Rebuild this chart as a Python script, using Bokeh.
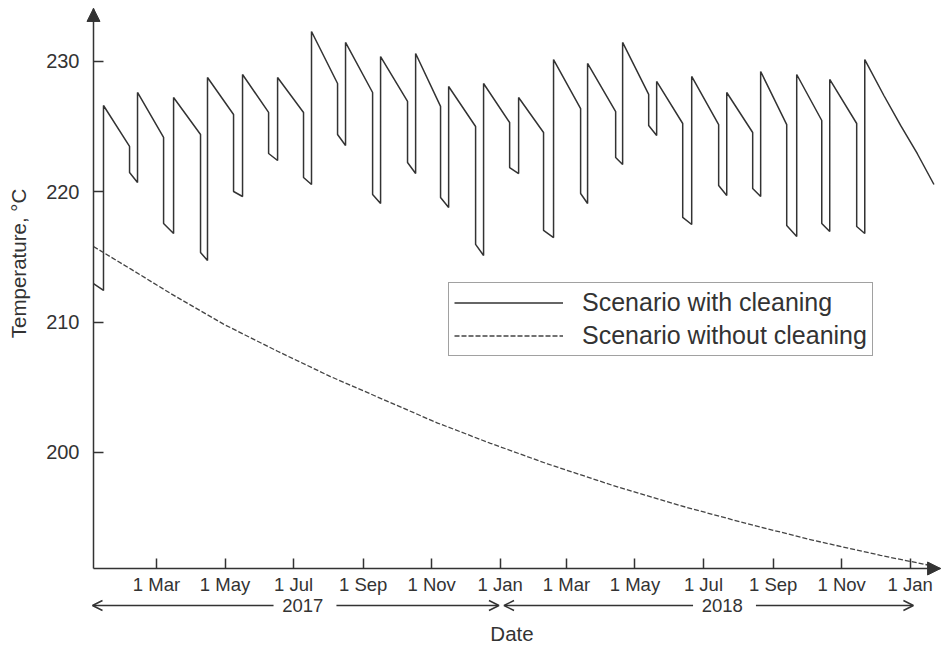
import numpy as np
from bokeh.plotting import figure
from bokeh.models import (ColumnDataSource, FixedTicker, Legend, LegendItem, Arrow,
                          NormalHead, OpenHead, Label, Range1d)
from bokeh.embed import file_html
from bokeh.resources import INLINE

# x values: days since 1 Jan 2017
clean_days = [2.9, 11.8, 11.8, 35.0, 35.0, 42.1, 42.1, 65.3, 65.3, 74.2, 74.2, 98.2, 98.2, 104.4,
              104.4, 127.6, 127.6, 135.6, 135.6, 158.8, 158.8, 166.8, 166.8, 189.9, 189.9, 197.0,
              197.0, 220.2, 220.2, 227.3, 227.3, 251.4, 251.4, 258.5, 258.5, 282.5, 282.5, 289.7,
              289.7, 311.9, 311.9, 319.1, 319.1, 343.1, 343.1, 350.2, 350.2, 373.4, 373.4, 381.4,
              381.4, 403.6, 403.6, 412.5, 412.5, 436.6, 436.6, 442.8, 442.8, 467.8, 467.8, 474.0,
              474.0, 497.2, 497.2, 504.3, 504.3, 527.5, 527.5, 535.5, 535.5, 559.5, 559.5, 566.7,
              566.7, 589.8, 589.8, 596.9, 596.9, 620.1, 620.1, 629.0, 629.0, 651.3, 651.3, 658.4,
              658.4, 682.4, 682.4, 689.6, 689.6, 706.6, 721.5, 736.4, 751.2]
clean_temp = [212.96, 212.43, 226.62, 223.48, 221.48, 220.71, 227.62, 224.17, 217.57, 216.80,
              227.24, 224.40, 215.34, 214.73, 228.77, 225.93, 220.02, 219.64, 229.00, 226.09,
              222.94, 222.40, 228.77, 226.09, 221.10, 220.56, 232.30, 228.31, 224.40, 223.55,
              231.46, 227.62, 219.79, 219.10, 230.38, 226.93, 222.25, 221.40, 230.61, 226.55,
              219.56, 218.79, 228.08, 225.01, 215.96, 215.11, 228.31, 225.32, 221.86, 221.40,
              227.24, 224.55, 217.03, 216.49, 230.15, 226.39, 219.87, 219.10, 229.85, 226.16,
              222.63, 222.10, 231.46, 227.47, 225.09, 224.32, 228.47, 225.24, 218.03, 217.49,
              228.85, 225.16, 220.48, 219.72, 227.62, 224.55, 220.25, 219.64, 229.23, 225.16,
              217.41, 216.57, 229.00, 225.47, 217.57, 216.95, 228.62, 225.24, 217.34, 216.80,
              230.15, 227.39, 225.09, 222.92, 220.56]

noclean_days = [2.9, 35.9, 71.5, 118.7, 166.8, 213.9, 261.2, 309.3, 356.3, 407.1, 465.8,
                525.5, 585.1, 643.9, 703.5, 748.0]
noclean_temp = [215.80, 214.08, 212.20, 209.84, 207.76, 205.82, 204.05, 202.25, 200.70,
                199.12, 197.45, 195.91, 194.52, 193.25, 192.10, 191.32]

tick_days = [59, 120, 181, 243, 304, 365, 424, 485, 546, 608, 669, 730]
tick_labels = ["1 Mar", "1 May", "1 Jul", "1 Sep", "1 Nov", "1 Jan",
               "1 Mar", "1 May", "1 Jul", "1 Sep", "1 Nov", "1 Jan"]
y_ticks = [200, 210, 220, 230]

years = ["2017", "2018"]
year_start = [2.0, 368.4]
year_end = [363.9, 732.9]
year_label_x = [189.2, 562.7]

series_labels = ["Scenario with cleaning", "Scenario without cleaning"]

# axis extents (data units)
AX_X0, AX_X1 = 2.9, 757.1
AX_Y0, AX_Y1 = 191.09, 234.07
INK = "#333333"
FONT = "Liberation Sans"

p = figure(width=942, height=648, x_range=Range1d(-79.9, 758.8), y_range=Range1d(184.95, 234.68),
           output_backend="svg", toolbar_location=None,
           min_border_left=0, min_border_right=0, min_border_top=0, min_border_bottom=0)
p.outline_line_color = None
p.xgrid.visible = False
p.ygrid.visible = False
p.background_fill_color = "white"
p.border_fill_color = "white"

p.xaxis.ticker = FixedTicker(ticks=tick_days)
p.xaxis.major_label_overrides = {d: l for d, l in zip(tick_days, tick_labels)}
p.yaxis.ticker = FixedTicker(ticks=y_ticks)
p.xaxis.fixed_location = AX_Y0
p.yaxis.fixed_location = AX_X0
p.xaxis.bounds = (AX_X0, AX_X1)
p.yaxis.bounds = (AX_Y0, AX_Y1)

for ax in (p.xaxis[0], p.yaxis[0]):
    ax.axis_line_color = INK
    ax.axis_line_width = 1.5
    ax.major_tick_line_color = INK
    ax.major_tick_line_width = 1.5
    ax.major_tick_in = 10
    ax.major_tick_out = 0
    ax.minor_tick_line_color = None
    ax.major_label_text_font = FONT
    ax.major_label_text_color = INK

p.xaxis.major_label_text_font_size = "18.5px"
p.xaxis.major_label_standoff = 6
p.yaxis.major_label_text_font_size = "20px"
p.yaxis.major_label_standoff = 14

src1 = ColumnDataSource(dict(x=clean_days, y=clean_temp))
src2 = ColumnDataSource(dict(x=noclean_days, y=noclean_temp))
r1 = p.line("x", "y", source=src1, line_color=INK, line_width=1.5)
r2 = p.line("x", "y", source=src2, line_color="#444444", line_width=1.3, line_dash="5 2")

legend = Legend(items=[LegendItem(label=series_labels[0], renderers=[r1]),
                       LegendItem(label=series_labels[1], renderers=[r2])],
                location=(448, 292), margin=0, padding=5, spacing=4,
                glyph_width=109, glyph_height=27, label_height=27, label_standoff=19,
                label_text_font=FONT, label_text_font_size="25px", label_text_color=INK,
                border_line_color="#444444", border_line_width=1.5,
                background_fill_color="white", background_fill_alpha=1.0)
p.add_layout(legend)

# axis arrowheads
p.add_layout(Arrow(end=NormalHead(size=13, fill_color=INK, line_color=INK),
                   x_start=AX_X0, y_start=AX_Y1 - 1.0, x_end=AX_X0, y_end=AX_Y1,
                   line_color=INK, line_width=1.5))
p.add_layout(Arrow(end=NormalHead(size=13, fill_color=INK, line_color=INK),
                   x_start=AX_X1 - 10, y_start=AX_Y0, x_end=AX_X1, y_end=AX_Y0,
                   line_color=INK, line_width=1.5))

# year span arrows below the axis
YEAR_Y = 188.25
for name, s, e, cx in zip(years, year_start, year_end, year_label_x):
    p.add_layout(Arrow(end=OpenHead(size=10, line_color=INK, line_width=1.5),
                       x_start=cx - 26, y_start=YEAR_Y, x_end=s, y_end=YEAR_Y,
                       line_color=INK, line_width=1.3))
    p.add_layout(Arrow(end=OpenHead(size=10, line_color=INK, line_width=1.5),
                       x_start=cx + 30, y_start=YEAR_Y, x_end=e, y_end=YEAR_Y,
                       line_color=INK, line_width=1.3))
    p.add_layout(Label(x=cx, y=YEAR_Y, text=name, text_align="center", text_baseline="middle",
                       text_font=FONT, text_font_size="18.5px", text_color=INK))

p.add_layout(Label(x=375.5, y=186.1, text="Date", text_align="center",
                   text_baseline="middle", text_font=FONT, text_font_size="20.5px", text_color=INK))
p.add_layout(Label(x=-63.9, y=214.5, text="Temperature, °C", angle=np.pi / 2, text_align="center",
                   text_baseline="middle", text_font=FONT, text_font_size="20.5px", text_color=INK))

open("out.html", "w").write(file_html(p, INLINE))
